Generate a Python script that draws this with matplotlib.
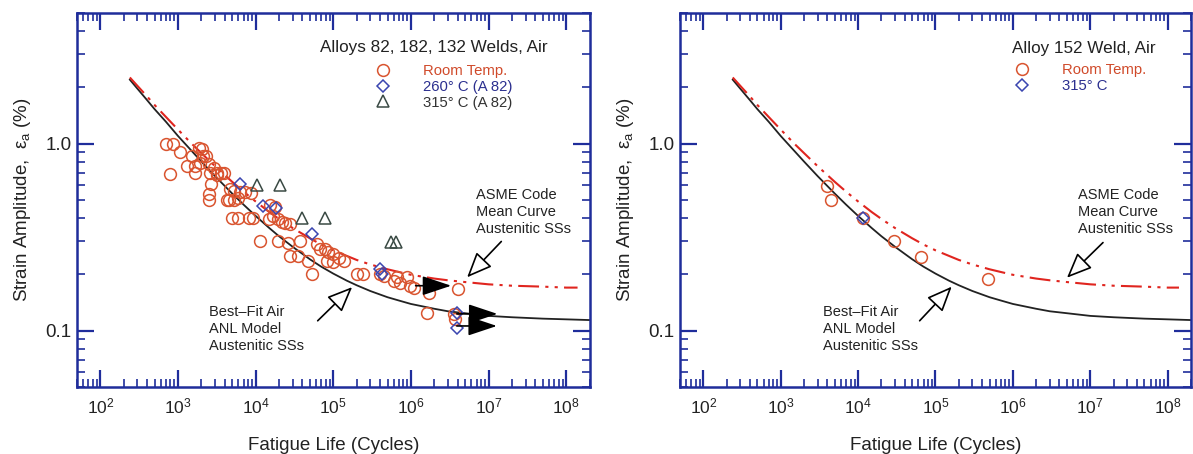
import numpy as np
import matplotlib
matplotlib.use("Agg")
import matplotlib.pyplot as plt
import matplotlib.ticker as ticker
from matplotlib.lines import Line2D

plt.rcParams['font.family'] = ['Liberation Sans', 'DejaVu Sans']
plt.rcParams['mathtext.fontset'] = 'custom'
plt.rcParams['mathtext.rm'] = 'Liberation Sans'
plt.rcParams['mathtext.it'] = 'Liberation Sans:italic'
plt.rcParams['mathtext.sf'] = 'Liberation Sans'

# === Curves ===
curve_n = [240, 300, 400, 500, 700, 1e3, 1.5e3, 2e3, 3e3, 5e3, 7e3, 1e4, 1.5e4, 2e4,
           3e4, 5e4, 7e4, 1e5, 1.5e5, 2e5, 3e5, 5e5, 7e5, 1e6, 2e6, 3e6, 5e6, 1e7,
           2e7, 5e7, 1e8, 2e8]
bestfit_ea = [2.20, 1.97, 1.71, 1.53, 1.31, 1.10, 0.915, 0.803, 0.671, 0.541, 0.472,
              0.411, 0.354, 0.320, 0.281, 0.241, 0.220, 0.202, 0.185, 0.175, 0.163,
              0.151, 0.145, 0.139, 0.131, 0.127, 0.124, 0.120, 0.118, 0.116, 0.115,
              0.114]
asme_n = [240, 300, 400, 500, 700, 1e3, 1.5e3, 2e3, 3e3, 5e3, 7e3, 1e4, 1.5e4, 2e4,
          3e4, 5e4, 7e4, 1e5, 1.5e5, 2e5, 3e5, 5e5, 7e5, 1e6, 2e6, 3e6, 5e6, 1e7,
          2e7, 5e7, 1e8, 1.4e8]
asme_ea = [2.26, 2.04, 1.79, 1.61, 1.39, 1.19, 1.00, 0.891, 0.758, 0.625, 0.554,
           0.491, 0.431, 0.396, 0.354, 0.312, 0.289, 0.269, 0.251, 0.239, 0.226,
           0.213, 0.206, 0.199, 0.190, 0.186, 0.182, 0.177, 0.174, 0.172, 0.170,
           0.170]

# === Left panel: Alloys 82, 182, 132 welds ===
rt_n = [700, 870, 1060, 780, 1300, 1500, 1650, 1670, 1850, 2030, 2100, 2300, 1900,
        2500, 2600, 2900, 3200, 3550, 3900, 3150, 2630, 2500, 2500,
        4300, 4500, 5200, 6000, 4700, 5300, 6300, 7300, 8600,
        5000, 6000, 8300, 9300,
        15400, 17800, 14700, 16800, 19700, 21700, 24000, 27900,
        11400, 19700, 26500, 37500,
        27900, 35000, 47800, 53000,
        61300, 67800, 78700, 86500, 100000, 117000, 137000, 83000, 100000,
        201000, 245000, 402000, 447000, 597000, 661000, 728000, 887000, 977000,
        1.08e6, 1.69e6, 4.1e6, 1.61e6, 3.54e6, 3.72e6]
rt_ea = [1.00, 1.00, 0.90, 0.69, 0.76, 0.86, 0.76, 0.70, 0.95, 0.94, 0.86, 0.86, 0.79,
         0.78, 0.70, 0.74, 0.70, 0.70, 0.70, 0.68, 0.61, 0.535, 0.50,
         0.50, 0.50, 0.50, 0.51, 0.57, 0.56, 0.55, 0.55, 0.545,
         0.40, 0.40, 0.40, 0.40,
         0.47, 0.456, 0.394, 0.41, 0.394, 0.38, 0.375, 0.37,
         0.30, 0.30, 0.295, 0.30,
         0.25, 0.25, 0.235, 0.20,
         0.29, 0.272, 0.272, 0.262, 0.256, 0.246, 0.236, 0.236, 0.232,
         0.20, 0.20, 0.20, 0.196, 0.185, 0.193, 0.181, 0.193, 0.174,
         0.170, 0.160, 0.167, 0.125, 0.123, 0.115]
t260_n = [6300, 12300, 18500, 53000, 400000, 430000, 3.9e6, 3.9e6]
t260_ea = [0.61, 0.465, 0.455, 0.327, 0.213, 0.202, 0.124, 0.104]
t315_n = [10300, 20900, 40000, 77600, 547000, 634000]
t315_ea = [0.60, 0.60, 0.40, 0.40, 0.298, 0.298]

# run-outs (arrows)
runout_start_n = [1.15e6, 3.9e6, 3.9e6]
runout_end_n = [3.3e6, 1.3e7, 1.28e7]
runout_ea = [0.174, 0.123, 0.106]

# === Right panel: Alloy 152 weld ===
r_rt_n = [3970, 4450, 11500, 29000, 65800, 472000]
r_rt_ea = [0.597, 0.497, 0.402, 0.30, 0.248, 0.189]
r_315_n = [11600]
r_315_ea = [0.40]

# === Tick values ===
x_major = [1e2, 1e3, 1e4, 1e5, 1e6, 1e7, 1e8]
y_major = [0.1, 1.0]

# === Colours ===
FRAME = '#1f2d9b'
RED_MK = '#d9542f'
BLUE_MK = '#3a45b0'
TRI_MK = '#3a4a44'
TXT = '#222222'

fig = plt.figure(figsize=(11.93, 4.54), dpi=100)
ax1 = fig.add_axes([0.0645, 0.1476, 0.4297, 0.8238])
ax2 = fig.add_axes([0.570, 0.1476, 0.4283, 0.8238])


def style_axes(ax):
    ax.set_xscale('log')
    ax.set_yscale('log')
    ax.set_xlim(50, 2e8)
    ax.set_ylim(0.05, 5)
    ax.xaxis.set_major_locator(ticker.FixedLocator(x_major))
    ax.xaxis.set_major_formatter(ticker.LogFormatterSciNotation())
    ax.xaxis.set_minor_locator(ticker.LogLocator(base=10, subs=np.arange(2, 10), numticks=100))
    ax.xaxis.set_minor_formatter(ticker.NullFormatter())
    ax.yaxis.set_major_locator(ticker.FixedLocator(y_major))
    ax.yaxis.set_minor_locator(ticker.LogLocator(base=10, subs=np.arange(2, 10), numticks=100))
    ax.yaxis.set_major_formatter(ticker.FuncFormatter(lambda v, p: f'{v:.1f}'))
    ax.yaxis.set_minor_formatter(ticker.NullFormatter())
    ax.tick_params(which='major', direction='in', length=12, width=1.6, color=FRAME,
                   top=True, right=True, labelcolor=TXT)
    ax.tick_params(which='minor', direction='in', length=5.5, width=1.2, color=FRAME,
                   top=True, right=True)
    ax.tick_params(axis='x', which='major', pad=7, labelsize=12.5)
    ax.tick_params(axis='y', which='major', pad=4, labelsize=13.5)
    for s in ax.spines.values():
        s.set_color(FRAME)
        s.set_linewidth(1.8)
    ax.set_xlabel('Fatigue Life (Cycles)', fontsize=13.5, color=TXT, labelpad=15)
    ax.set_ylabel(r'Strain Amplitude,  $\mathregular{\varepsilon_a}$ (%)', fontsize=13.5,
                  color=TXT, labelpad=9)

    ax.plot(curve_n, bestfit_ea, color='#222222', lw=1.3, zorder=2)
    ax.plot(asme_n, asme_ea, color='#e0251f', lw=1.5, zorder=2,
            linestyle=(0, (10, 3, 1.5, 3, 1.5, 3)))


def callouts(ax, asme_xy, asme_tail, asme_txt, bf_xy, bf_tail, bf_txt):
    hollow = dict(arrowstyle='-|>,head_length=1.3,head_width=0.55', fc='white',
                  ec='black', lw=1.2, mutation_scale=12, shrinkA=0, shrinkB=0)
    ax.annotate('', xy=asme_xy, xytext=asme_tail, arrowprops=hollow, zorder=4)
    ax.annotate('', xy=bf_xy, xytext=bf_tail, arrowprops=hollow, zorder=4)
    ax.text(asme_txt[0], asme_txt[1], 'ASME Code\nMean Curve\nAustenitic SSs',
            transform=ax.transAxes, ha='left', va='top', fontsize=10.5, color=TXT,
            linespacing=1.25)
    ax.text(bf_txt[0], bf_txt[1], 'Best\u2013Fit Air\nANL Model\nAustenitic SSs',
            transform=ax.transAxes, ha='left', va='top', fontsize=10.5, color=TXT,
            linespacing=1.25)


mk = dict(ls='none', mfc='none', mew=1.1)
DIA = dict(marker='D', ms=6.5, mec=BLUE_MK)

# ---- left panel ----
style_axes(ax1)
ax1.plot(rt_n, rt_ea, marker='o', ms=8.5, mec=RED_MK, zorder=3, **mk)
ax1.plot(t260_n, t260_ea, zorder=3, **DIA, **mk)
ax1.plot(t315_n, t315_ea, marker='^', ms=9, mec=TRI_MK, zorder=3, **mk)
for n0, n1, e in zip(runout_start_n, runout_end_n, runout_ea):
    ax1.annotate('', xy=(n1, e), xytext=(n0, e), zorder=4,
                 arrowprops=dict(arrowstyle='-|>,head_length=1.5,head_width=0.5',
                                 fc='black', ec='black', lw=1.2, mutation_scale=12,
                                 shrinkA=0, shrinkB=0))
callouts(ax1, (5.3e6, 0.193), (1.46e7, 0.30), (0.778, 0.531),
         (1.75e5, 0.171), (6.3e4, 0.113), (0.2567, 0.218))
ax1.text(0.474, 0.909, 'Alloys 82, 182, 132 Welds, Air', transform=ax1.transAxes,
         ha='left', va='center', fontsize=12.3, color=TXT)
h1 = [Line2D([], [], marker='o', ms=8.5, mec=RED_MK, **mk),
      Line2D([], [], **DIA, **mk),
      Line2D([], [], marker='^', ms=9, mec=TRI_MK, **mk)]
ax1.legend(h1, ['Room Temp.', '260\u00b0 C (A 82)', '315\u00b0 C (A 82)'],
           loc='upper left', bbox_to_anchor=(0.5825, 0.8636), frameon=False,
           fontsize=10.7, handlelength=1.0, handletextpad=2.2, labelspacing=0.12,
           borderpad=0, borderaxespad=0, labelcolor=['#d04a2a', '#2b2f8f', '#333333'])

# ---- right panel ----
style_axes(ax2)
ax2.plot(r_rt_n, r_rt_ea, marker='o', ms=8.5, mec=RED_MK, zorder=3, **mk)
ax2.plot(r_315_n, r_315_ea, zorder=3, **DIA, **mk)
callouts(ax2, (5.0e6, 0.192), (1.46e7, 0.296), (0.7797, 0.531),
         (1.62e5, 0.172), (6.24e4, 0.113), (0.2798, 0.218))
ax2.text(0.650, 0.906, 'Alloy 152 Weld, Air', transform=ax2.transAxes,
         ha='left', va='center', fontsize=12.3, color=TXT)
h2 = [Line2D([], [], marker='o', ms=8.5, mec=RED_MK, **mk),
      Line2D([], [], **DIA, **mk)]
ax2.legend(h2, ['Room Temp.', '315\u00b0 C'],
           loc='upper left', bbox_to_anchor=(0.6548, 0.865), frameon=False,
           fontsize=10.7, handlelength=1.0, handletextpad=2.2, labelspacing=0.12,
           borderpad=0, borderaxespad=0, labelcolor=['#d04a2a', '#2b2f8f'])

fig.savefig('out.png', dpi=100)
